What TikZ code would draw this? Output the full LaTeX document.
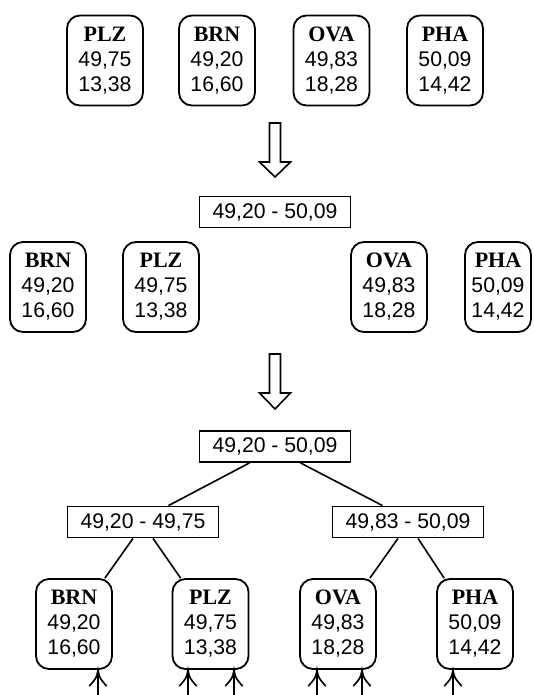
\documentclass[tikz,border=0pt]{standalone}
\usepackage{fontspec}
\setmainfont{Liberation Sans}
\newfontfamily\lblfont{Liberation Serif}
\usetikzlibrary{calc}
\newcommand{\lbl}[1]{{\lblfont\bfseries\fontsize{22}{25}\selectfont #1}\\}
\begin{document}
\begin{tikzpicture}[x=1pt,y=-1pt,
  every node/.style={font=\fontsize{21.2}{25}\selectfont},
  city/.style={draw, rounded corners=13pt, line width=1.8pt, minimum width=76pt, minimum height=90pt, inner sep=0pt, align=center},
  rangebox/.style={draw, line width=1.8pt, minimum width=151pt, minimum height=31pt, inner sep=0pt},
  edge/.style={line width=1.6pt},
  barbs/.style={line width=1.6pt, line cap=round},
  blockarrow/.style={draw, line width=1.6pt, fill=white, line join=miter}]
\useasboundingbox (0,0) rectangle (533,695);

% row 1
\node[city] (plz1) at (105,60.5) {\lbl{PLZ}49,75\\13,38};
\node[city] (brn1) at (217,60.5) {\lbl{BRN}49,20\\16,60};
\node[city] (ova1) at (331.5,60.5) {\lbl{OVA}49,83\\18,28};
\node[city] (pha1) at (445,60.5) {\lbl{PHA}50,09\\14,42};

% arrow 1
\draw[blockarrow] (269.5,123) -- (280.5,123) -- (280.5,162) -- (290.5,162) -- (275,177) -- (259.5,162) -- (269.5,162) -- cycle;

\node[rangebox] (top) at (275,212) {49,20 - 50,09};

% row 2
\node[city] (brn2) at (48,287) {\lbl{BRN}49,20\\16,60};
\node[city] (plz2) at (161,287) {\lbl{PLZ}49,75\\13,38};
\node[city] (ova2) at (389,287) {\lbl{OVA}49,83\\18,28};
\node[city, minimum width=66pt] (pha2) at (498,287) {\lbl{PHA}50,09\\14,42};

% arrow 2
\draw[blockarrow] (269.5,354) -- (280.5,354) -- (280.5,393) -- (290.5,393) -- (275,409) -- (259.5,393) -- (269.5,393) -- cycle;

% tree
\node[rangebox] (root) at (275,446.5) {49,20 - 50,09};
\node[rangebox] (sl) at (143,522) {49,20 - 49,75};
\node[rangebox] (sr) at (408,522) {49,83 - 50,09};

\node[city] (brn3) at (74,624) {\lbl{BRN}49,20\\16,60};
\node[city] (plz3) at (210.5,624) {\lbl{PLZ}49,75\\13,38};
\node[city] (ova3) at (338,624) {\lbl{OVA}49,83\\18,28};
\node[city] (pha3) at (475,624) {\lbl{PHA}50,09\\14,42};

\draw[edge] ($(root.south west)!1/3!(root.south east)$) -- ($(sl.north west)!2/3!(sl.north east)$);
\draw[edge] ($(root.south west)!2/3!(root.south east)$) -- ($(sr.north west)!1/3!(sr.north east)$);

\draw[edge] ($(sl.south)+(-10,0)$) -- ($(brn3.north east)+(-8,0)$);
\draw[edge] ($(sl.south)+(10,0)$) -- ($(plz3.north west)+(9,0)$);
\draw[edge] ($(sr.south)+(-10,0)$) -- ($(ova3.north east)+(-7,0)$);
\draw[edge] ($(sr.south)+(10,0)$) -- ($(pha3.north west)+(8,0)$);

% incoming arrows from below
\coordinate (f1) at (98,695);
\coordinate (f2) at (188,695);
\coordinate (f3) at (234,695);
\coordinate (f4) at (317,695);
\coordinate (f5) at (362,695);
\coordinate (f6) at (453,695);
\foreach \f/\n in {f1/brn3, f2/plz3, f3/plz3, f4/ova3, f5/ova3, f6/pha3}{
  \draw[edge] (\f) -- (\f |- \n.south) coordinate (tip);
  \draw[barbs] ($(tip)+(-8.5,16)$) .. controls ($(tip)+(-1.5,8)$) .. (tip)
               .. controls ($(tip)+(1.5,8)$) .. ($(tip)+(8.5,16)$);
}
\end{tikzpicture}
\end{document}
